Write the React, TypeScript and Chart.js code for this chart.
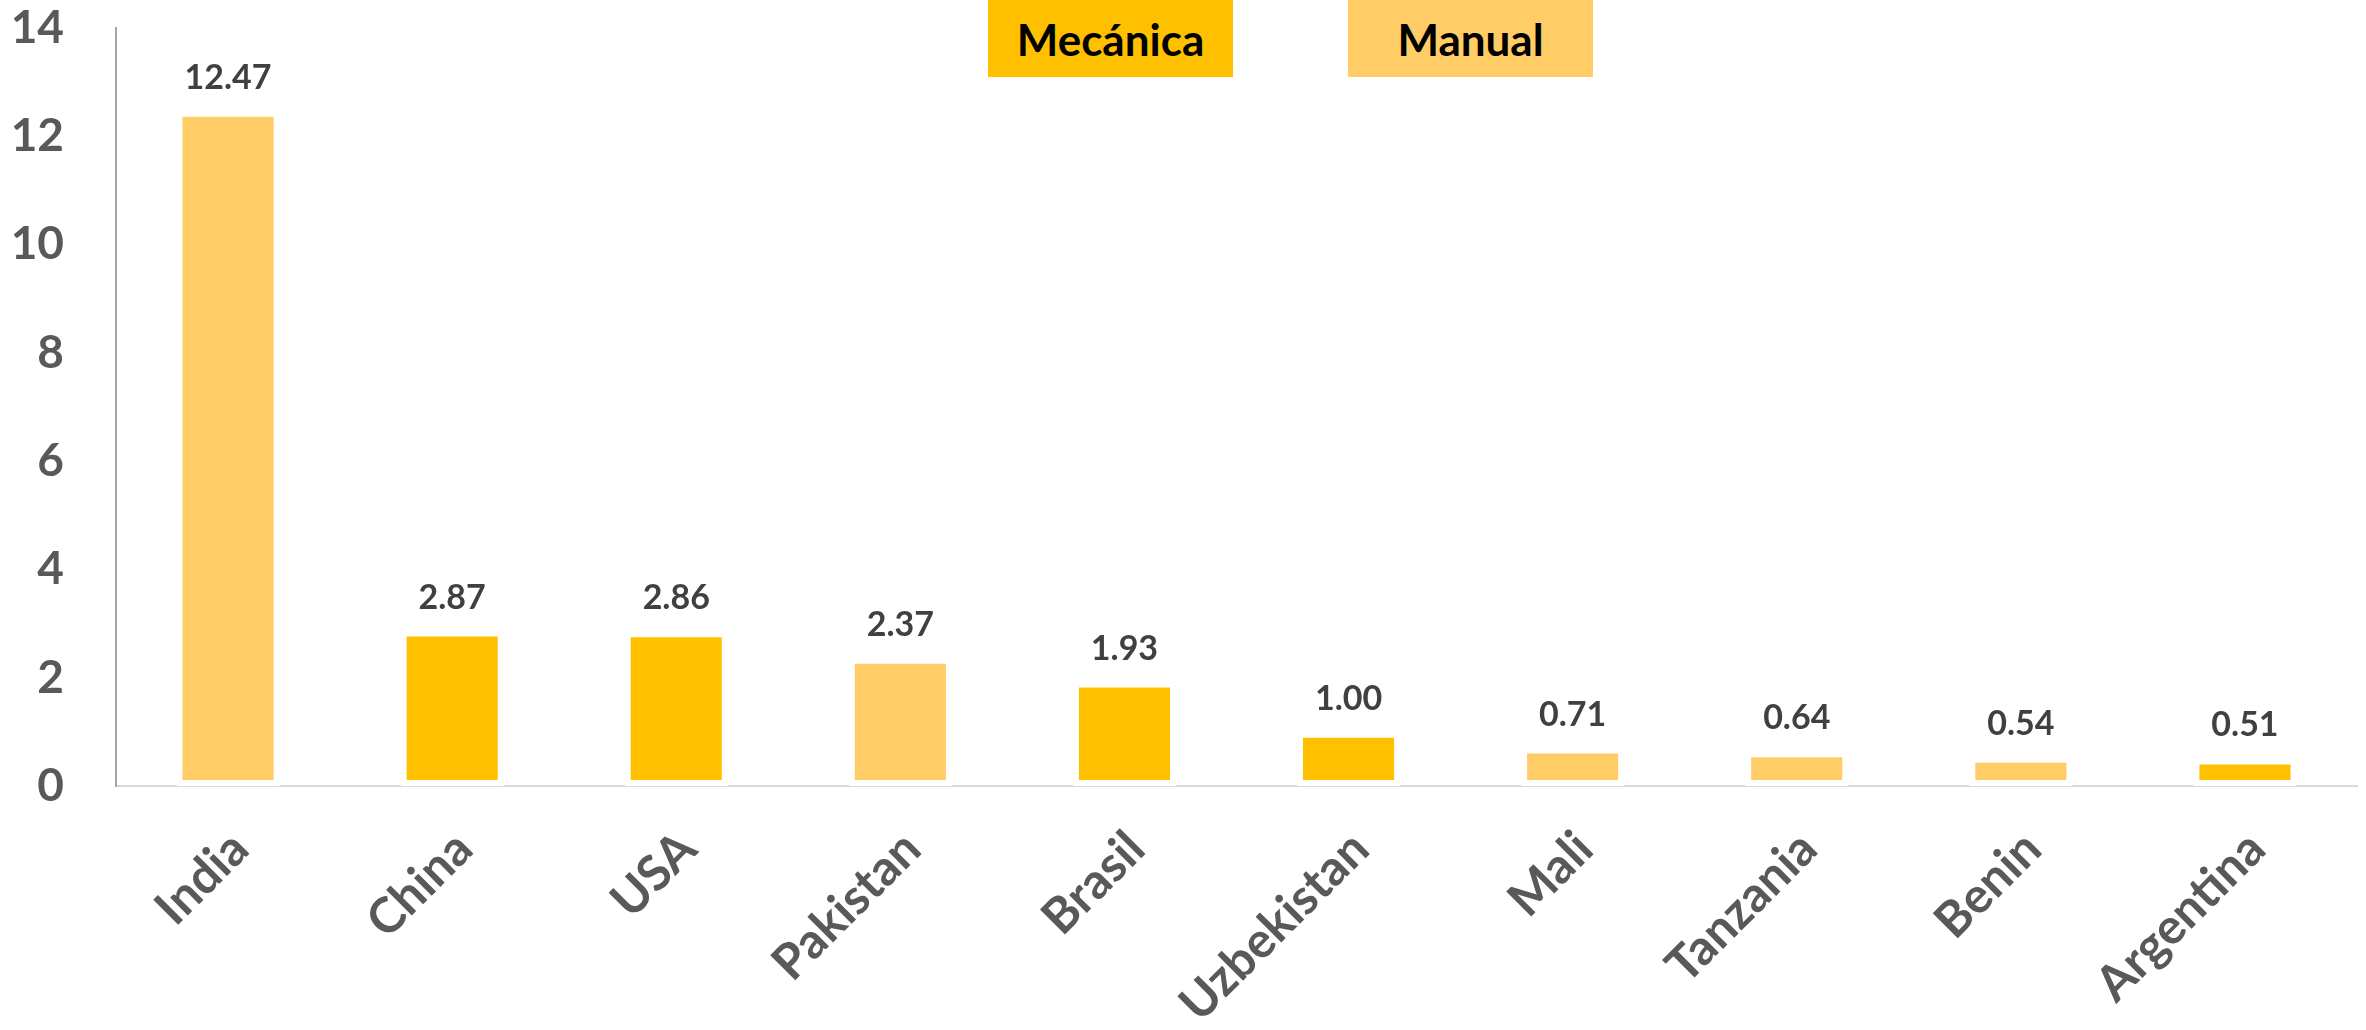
import React, { useEffect, useRef } from "react";
import { Chart, registerables } from "chart.js";

Chart.register(...registerables);

const categories = ["India", "China", "USA", "Pakistan", "Brasil", "Uzbekistan", "Mali", "Tanzania", "Benin", "Argentina"];
const mecanicaValues = [null, 2.87, 2.86, null, 1.93, 1.0, null, null, null, 0.51];
const manualValues = [12.47, null, null, 2.37, null, null, 0.71, 0.64, 0.54, null];
const seriesNames = ["Mecánica", "Manual"];
const seriesColors = ["#FFC000", "#FFCC66"];
const yTicks = [0, 2, 4, 6, 8, 10, 12, 14];

const FONT = "Lato, 'Open Sans', sans-serif";

const dataLabelPlugin = {
  id: "dataLabels",
  afterDatasetsDraw(chart: any) {
    const ctx = chart.ctx;
    ctx.save();
    ctx.font = `bold 34px ${FONT}`;
    ctx.fillStyle = "#404040";
    ctx.textAlign = "center";
    ctx.textBaseline = "alphabetic";
    chart.data.datasets.forEach((ds: any, di: number) => {
      const meta = chart.getDatasetMeta(di);
      meta.data.forEach((el: any, i: number) => {
        const v = ds.data[i];
        if (v === null || v === undefined) return;
        ctx.fillText(Number(v).toFixed(2), el.x, el.y - 22);
      });
    });
    ctx.restore();
  },
};

export default function App() {
  const canvasRef = useRef<HTMLCanvasElement | null>(null);

  useEffect(() => {
    if (!canvasRef.current) return;
    const chart = new Chart(canvasRef.current, {
      type: "bar",
      data: {
        labels: categories,
        datasets: [
          {
            label: seriesNames[0],
            data: mecanicaValues as any,
            backgroundColor: seriesColors[0],
            borderColor: "#FFFFFF",
            borderWidth: 6,
            borderSkipped: false,
          },
          {
            label: seriesNames[1],
            data: manualValues as any,
            backgroundColor: seriesColors[1],
            borderColor: "#FFFFFF",
            borderWidth: 6,
            borderSkipped: false,
          },
        ],
      },
      options: {
        animation: false,
        responsive: false,
        maintainAspectRatio: false,
        devicePixelRatio: 1,
        layout: { padding: { top: 28, right: 9, left: 0, bottom: 0 } },
        plugins: { legend: { display: false }, tooltip: { enabled: false } },
        datasets: { bar: { categoryPercentage: 1, barPercentage: 0.46 } } as any,
        scales: {
          x: {
            stacked: true,
            grid: { display: false },
            border: { display: true, color: "#D9D9D9", width: 2 },
            ticks: {
              font: { family: FONT, size: 49, weight: "bold" },
              color: "#595959",
              minRotation: 45,
              maxRotation: 45,
              padding: 26,
              labelOffset: 12,
              autoSkip: false,
            },
            afterFit: (scale: any) => {
              scale.height = 1030 - 786;
              scale.paddingLeft = 0;
              scale.paddingRight = 0;
            },
          },
          y: {
            stacked: true,
            min: 0,
            max: 14,
            afterBuildTicks: (scale: any) => {
              scale.ticks = yTicks.map((v) => ({ value: v }));
            },
            grid: { display: false },
            border: { display: true, color: "#A6A6A6", width: 2 },
            ticks: {
              font: { family: FONT, size: 46, weight: "bold" },
              color: "#595959",
              padding: 44,
            },
            afterFit: (scale: any) => {
              scale.width = 116;
              scale.paddingTop = 0;
              scale.paddingBottom = 0;
            },
          },
        },
      },
      plugins: [dataLabelPlugin],
    });
    return () => chart.destroy();
  }, []);

  const legendBox = (left: number, idx: number) => (
    <div
      style={{
        position: "absolute",
        left,
        top: 0,
        width: 245,
        height: 77,
        background: seriesColors[idx],
        display: "flex",
        alignItems: "center",
        justifyContent: "center",
        fontFamily: FONT,
        fontWeight: 700,
        fontSize: 44,
        color: "#000000",
      }}
    >
      {seriesNames[idx]}
    </div>
  );

  return (
    <div style={{ position: "fixed", left: 0, top: 0, width: 2366, height: 1030, background: "#FFFFFF" }}>
      <canvas ref={canvasRef} width={2366} height={1030} style={{ display: "block" }} />
      {legendBox(988, 0)}
      {legendBox(1348, 1)}
    </div>
  );
}
